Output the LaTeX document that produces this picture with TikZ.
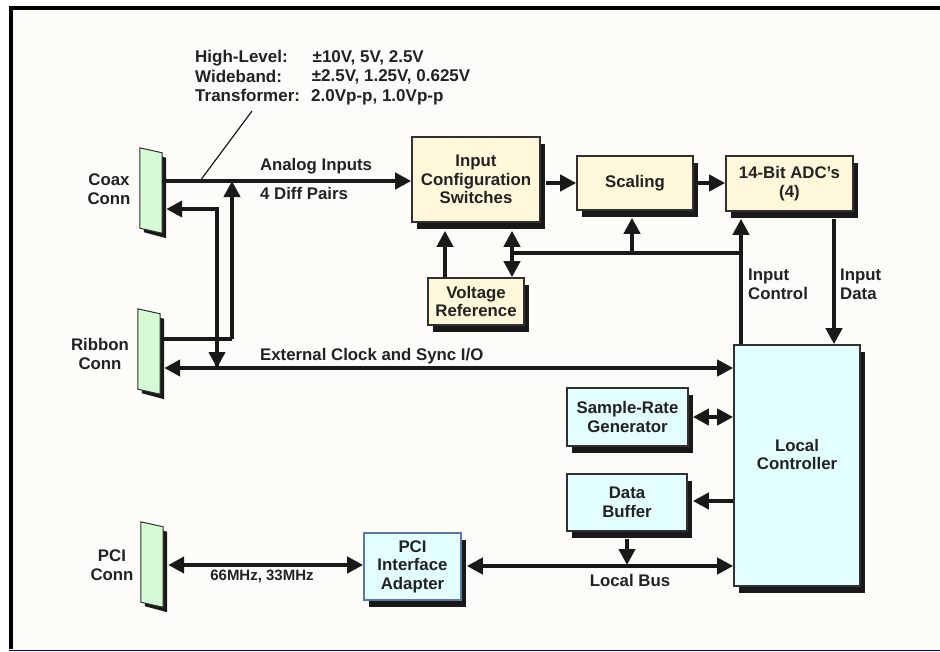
\documentclass[tikz,border=0pt]{standalone}
\usepackage{fontspec}
\setmainfont{Liberation Sans}
\usetikzlibrary{arrows.meta,shadows,calc}
\definecolor{bgc}{HTML}{FDFCF8}
\definecolor{cream}{HTML}{FFF7D9}
\definecolor{cyanf}{HTML}{E2FEFE}
\definecolor{greenf}{HTML}{D6FAD6}
\definecolor{txt}{HTML}{222222}
\definecolor{edge}{HTML}{303030}
\definecolor{pciedge}{HTML}{587AA0}
\definecolor{bluel}{HTML}{000080}
\tikzset{
  fnt/.style={font=\fontsize{16.8}{18.6}\selectfont\bfseries},
  box/.style={draw=edge, line width=1.6pt, text=txt, fnt, align=center, inner sep=0pt,
    drop shadow={shadow xshift=5pt, shadow yshift=-7pt, fill=black!90, opacity=1}},
  cbox/.style={box, fill=cream},
  bbox/.style={box, fill=cyanf},
  wire/.style={line width=4pt, draw=black!90},
  arr/.style={wire, -{Triangle[length=16pt,width=16pt]}},
  darr/.style={wire, {Triangle[length=16pt,width=16pt]}-{Triangle[length=16pt,width=16pt]}},
  lbl/.style={text=txt, fnt, inner sep=0pt, align=center},
  notefnt/.style={font=\fontsize{17}{19.5}\selectfont\bfseries},
  conn/.style={draw=none, minimum width=22pt, minimum height=80pt, inner sep=0pt},
  connface/.style={fill=greenf, draw=edge, line width=1pt},
  connshadow/.style={fill=black!90},
}
\begin{document}
\begin{tikzpicture}[x=1pt,y=-1pt]
\useasboundingbox (0,0) rectangle (940,651);
\fill[white] (0,0) rectangle (940,651);
\fill[bgc] (11,8) rectangle (940,650);
\fill[black] (9,6) rectangle (940,10);
\fill[black] (9,6) rectangle (13,649);
\draw[bluel, line width=1.2pt] (9,650.2) -- (940,650.2);

% connectors (named invisible nodes)
\node[conn] (coax) at (151,190) {};
\node[conn] (ribbon) at (149,351) {};
\node[conn] (pcic) at (152,564) {};
\foreach \c in {coax,ribbon,pcic}{
  \fill[connshadow] ($(\c.north west)+(4,2)$) -- ($(\c.north east)+(4,8)$) -- ($(\c.south east)+(4,8)$) -- ($(\c.south west)+(4,2)$) -- cycle;
  \filldraw[connface] ($(\c.north west)+(0,-2)$) -- ($(\c.north east)+(0,3)$) -- ($(\c.south east)+(0,3)$) -- ($(\c.south west)+(0,-2)$) -- cycle;
}
\node[lbl] at (109,189) {Coax\\Conn};
\node[lbl] at (100,354) {Ribbon\\Conn};
\node[lbl] at (112,565) {PCI\\Conn};

% boxes
\node[cbox, minimum width=128pt, minimum height=85pt] (ics) at (476,179.5) {Input\\Configuration\\Switches};
\node[cbox, minimum width=116pt, minimum height=54pt] (scal) at (635,183) {Scaling};
\node[cbox, minimum width=127pt, minimum height=55pt] (adc) at (789.5,183.5) {14-Bit ADC's\\(4)};
\node[cbox, minimum width=96pt, minimum height=47pt] (vref) at (476,301.5) {Voltage\\Reference};
\node[bbox, minimum width=126pt, minimum height=241pt] (lc) at (797,465.5) {};
\node[lbl] at ($(lc.center)+(0,-11)$) {Local\\Controller};
\node[bbox, minimum width=121pt, minimum height=58pt] (srg) at (627.5,417) {Sample-Rate\\Generator};
\node[bbox, minimum width=120pt, minimum height=57pt] (dbuf) at (627,502.5) {Data\\Buffer};
\node[bbox, draw=pciedge, minimum width=97pt, minimum height=67pt] (pci) at (412.5,566.5) {PCI\\Interface\\Adapter};

% top note
\node[lbl, anchor=north west, align=left, notefnt] (note) at (195,50)
  {High-Level:\\Wideband:\\Transformer:};
\node[lbl, anchor=north west, align=left, notefnt] at (311,50)
  {\hspace*{1.5pt}±10V, 5V, 2.5V\\\hspace*{0.7pt}±2.5V, 1.25V, 0.625V\\2.0Vp-p, 1.0Vp-p};
\coordinate (lead) at (252,111);
\coordinate (leadend) at (200,181);
\draw[line width=1.2pt, black!90] (lead) -- (leadend);

% analog inputs
\draw[arr] (coax.east |- 0,181) -- (ics.west |- 0,181);
\node[lbl] at (316,166) {Analog Inputs};
\node[lbl, anchor=west] at (260,193) {4 Diff Pairs};

% coax/ribbon interconnect
\coordinate (j1) at (217,209);
\coordinate (j2) at (217,368);
\coordinate (r1) at (232,339);
\coordinate (r2) at (232,181);
\draw[arr] (j2) -- (j1) -- ([xshift=4pt]coax.east |- j1);
\draw[arr] (j1) -- (j2);
\draw[wire] ([xshift=3pt]ribbon.east |- r1) -- (r1);
\draw[arr] (r1) -- (r2);

% external clock
\draw[darr] ([xshift=4pt]ribbon.east |- 0,368) -- (lc.west |- 0,368);
\node[lbl, anchor=west] at (260,356) {External Clock and Sync I/O};

% signal chain
\draw[arr] ([xshift=5pt]ics.east |- 0,183) -- (scal.west |- 0,183);
\draw[arr] ([xshift=4pt]scal.east |- 0,183) -- (adc.west |- 0,183);

% control bus
\coordinate (cb) at (741,253);
\coordinate (cbl) at (512,253);
\draw[arr] (lc.north -| cb) -- ([yshift=-7pt]adc.south -| cb);
\draw[wire] (cb) -- (cbl);
\draw[arr] (632,253) -- ([yshift=-7pt]scal.south -| 632,0);
\draw[darr] ([yshift=-8pt]ics.south -| cbl) -- (vref.north -| cbl);
\draw[arr] (vref.north -| 445,0) -- ([yshift=-8pt]ics.south -| 445,0);
\node[lbl, anchor=west, align=left] at (748,284) {Input\\Control};
\draw[arr] ([yshift=-7pt]adc.south -| 834,0) -- (lc.north -| 834,0);
\node[lbl, anchor=west, align=left] at (840,284) {Input\\Data};

% local controller side
\draw[darr] ([xshift=4pt]srg.east) -- (lc.west |- srg.east);
\draw[arr] (lc.west |- 0,501) -- ([xshift=5pt]dbuf.east |- 0,501);
\draw[arr] ([yshift=-7pt]dbuf.south) -- (627,565);
\draw[darr] ([xshift=5pt]pci.east |- 0,566) -- (lc.west |- 0,566);
\node[lbl] at (630,580) {Local Bus};

% pci link
\draw[darr] ([xshift=5pt]pcic.east |- 0,565) -- (pci.west |- 0,565);
\node[lbl, font=\fontsize{15}{17}\selectfont\bfseries] at (262,576) {66MHz, 33MHz};
\end{tikzpicture}
\end{document}
